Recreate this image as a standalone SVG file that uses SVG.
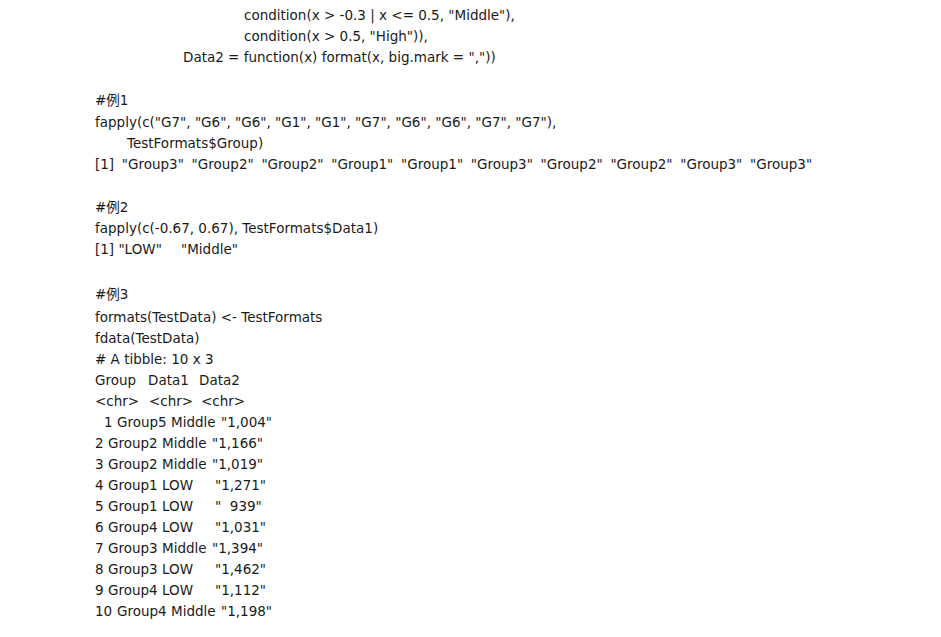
<svg xmlns="http://www.w3.org/2000/svg" width="941" height="637" viewBox="0 0 941 637">
<style>
text{font-family:"DejaVu Sans","Noto Sans CJK JP",sans-serif;font-size:13.5px;fill:#1a1a1a;white-space:pre}
</style>
<rect x="0" y="0" width="941" height="637" fill="#ffffff"/>
<g id="code">
<text x="244" y="20">condition(x &gt; -0.3 | x &lt;= 0.5, "Middle"),</text>
<text x="244" y="41">condition(x &gt; 0.5, "High")),</text>
<text x="183" y="62">Data2 = function(x) format(x, big.mark = ","))</text>
<text x="95" y="105">#例1</text>
<text x="95" y="127">fapply(c("G7", "G6", "G6", "G1", "G1", "G7", "G6", "G6", "G7", "G7"),</text>
<text x="127" y="148">TestFormats$Group)</text>
<text x="95" y="169" word-spacing="3.4">[1] "Group3" "Group2" "Group2" "Group1" "Group1" "Group3" "Group2" "Group2" "Group3" "Group3"</text>
<text x="95" y="212">#例2</text>
<text x="95" y="233">fapply(c(-0.67, 0.67), TestFormats$Data1)</text>
<text x="95" y="254">[1] "LOW"<tspan x="181">"Middle"</tspan></text>
<text x="95" y="299">#例3</text>
<text x="95" y="322">formats(TestData) &lt;- TestFormats</text>
<text x="95" y="343">fdata(TestData)</text>
<text x="95" y="364"># A tibble: 10 x 3</text>
<text x="95" y="385">Group<tspan x="148">Data1</tspan><tspan x="199">Data2</tspan></text>
<text x="95" y="406">&lt;chr&gt;<tspan x="149">&lt;chr&gt;</tspan><tspan x="201">&lt;chr&gt;</tspan></text>
<text x="104" y="427">1<tspan x="117">Group5</tspan><tspan x="171">Middle</tspan><tspan x="221">"1,004"</tspan></text>
<text x="95" y="448">2<tspan x="108">Group2</tspan><tspan x="162">Middle</tspan><tspan x="212">"1,166"</tspan></text>
<text x="95" y="469">3<tspan x="108">Group2</tspan><tspan x="162">Middle</tspan><tspan x="212">"1,019"</tspan></text>
<text x="95" y="490">4<tspan x="108">Group1</tspan><tspan x="162">LOW</tspan><tspan x="215">"1,271"</tspan></text>
<text x="95" y="511">5<tspan x="108">Group1</tspan><tspan x="162">LOW</tspan><tspan x="215">"  939"</tspan></text>
<text x="95" y="532">6<tspan x="108">Group4</tspan><tspan x="162">LOW</tspan><tspan x="215">"1,031"</tspan></text>
<text x="95" y="553">7<tspan x="108">Group3</tspan><tspan x="162">Middle</tspan><tspan x="212">"1,394"</tspan></text>
<text x="95" y="574">8<tspan x="108">Group3</tspan><tspan x="162">LOW</tspan><tspan x="215">"1,462"</tspan></text>
<text x="95" y="595">9<tspan x="108">Group4</tspan><tspan x="162">LOW</tspan><tspan x="215">"1,112"</tspan></text>
<text x="95" y="616">10<tspan x="117">Group4</tspan><tspan x="171">Middle</tspan><tspan x="221">"1,198"</tspan></text>
</g>
</svg>
